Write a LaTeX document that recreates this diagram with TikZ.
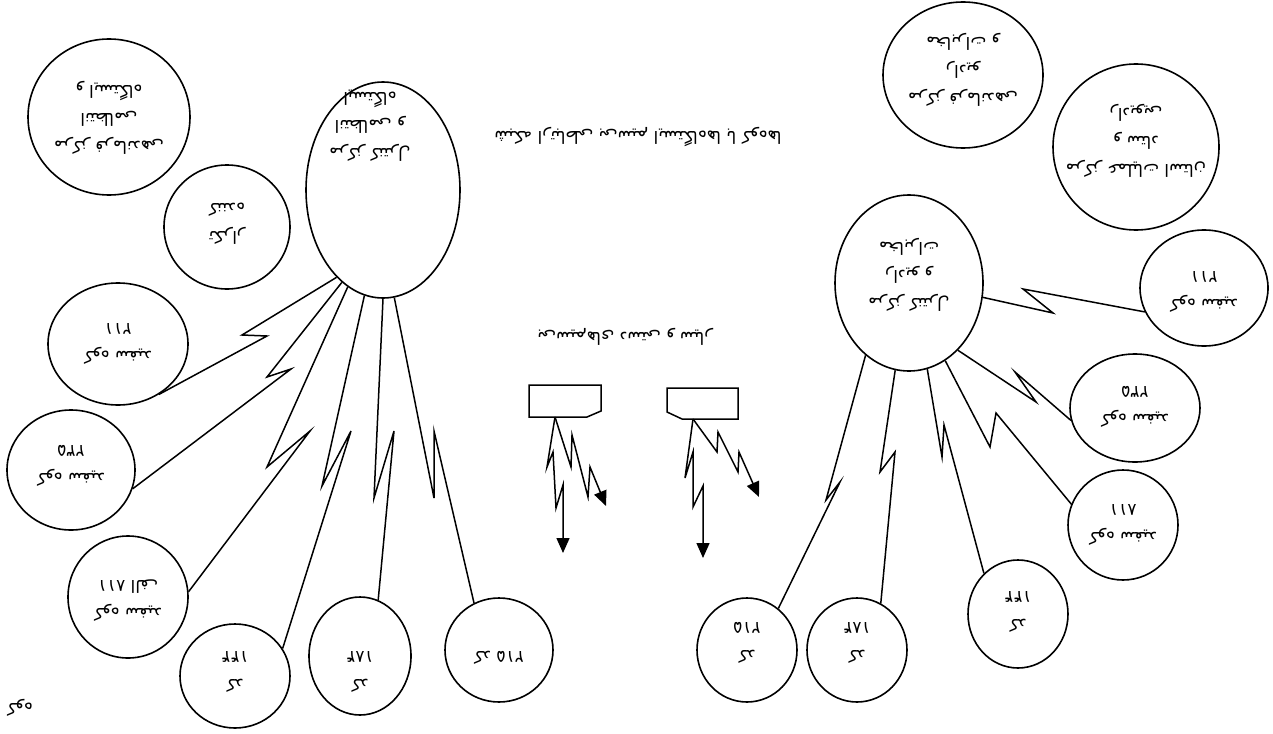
\documentclass[tikz,border=0pt]{standalone}
\usepackage{fontspec}
\usetikzlibrary{shapes.geometric,arrows.meta}
\newfontfamily\fafont[Script=Arabic]{DejaVu Sans}
\TeXXeTstate=1
\newcommand{\fa}[1]{\beginR #1\endR}

\tikzset{
  bub/.style={draw, ellipse, line width=0.8pt, inner sep=0pt},
  lbl/.style={rotate=180, align=center, inner sep=0pt, font=\fafont\fontsize{8.5}{14}\selectfont},
  zap/.style={line width=0.75pt, line join=miter},
  bolt/.style={zap, -{Triangle[width=6.5pt,length=7.5pt]}},
  radio/.style={line width=0.75pt}
}

\begin{document}
\begin{tikzpicture}[x=0.5pt,y=-0.5pt]
\useasboundingbox (0,0) rectangle (1273,733);

% left station
\node[bub, minimum width=81pt, minimum height=78pt] (tl) at (109,117) {};
\node[lbl] (tlT) at (109,118) {\fa{مرکز فرماندهی}\\\fa{انتظامی}\\\fa{و ایستگاه}};
\node[bub, minimum width=63pt, minimum height=62pt] (rep) at (227,227) {};
\node[lbl] (repT) at (227,224) {\fa{تکرار}\\\fa{کننده}};
\node[bub, minimum width=77pt, minimum height=108pt] (lc) at (383,190) {};
\node[lbl] (lcT) at (370,126) {\fa{مرکز کنترل}\\\fa{انتظامی و}\\\fa{ایستگاه}};
\node[bub, minimum width=70pt, minimum height=61pt] (l1) at (118,344) {};
\node[lbl] (l1T) at (118,344) {\fa{کوه سفید}\\\fa{۲۱۱}};
\node[bub, minimum width=64pt, minimum height=60pt] (l2) at (71,470) {};
\node[lbl] (l2T) at (71,466) {\fa{کوه سفید}\\\fa{۲۳۵}};
\node[bub, minimum width=60pt, minimum height=61pt] (l3) at (128,597) {};
\node[lbl] (l3T) at (128,601) {\fa{کوه سفید}\\\fa{۸۱۱ الف}};
\node[bub, minimum width=55pt, minimum height=52pt] (lb1) at (235,676) {};
\node[lbl] (lb1T) at (235,672) {\fa{کد}\\\fa{۱۴۴}};
\node[bub, minimum width=51pt, minimum height=59pt] (lb2) at (360,656) {};
\node[lbl] (lb2T) at (360,672) {\fa{کد}\\\fa{۱۸۴}};
\node[bub, minimum width=54pt, minimum height=52pt] (lb3) at (499,650) {};
\node[lbl] (lb3T) at (499,658) {\fa{کد ۲۱۵}};

% right station
\node[bub, minimum width=80pt, minimum height=73pt] (tr1) at (963,75) {};
\node[lbl] (tr1T) at (963,70) {\fa{مرکز فرماندهی}\\\fa{رادیو}\\\fa{مخابرات و}};
\node[bub, minimum width=83pt, minimum height=83pt] (tr2) at (1136,147) {};
\node[lbl] (tr2T) at (1136,141) {\fa{مرکز عملیات استان}\\\fa{و ستاد}\\\fa{رادیویی}};
\node[bub, minimum width=74pt, minimum height=88pt] (rc) at (909,283) {};
\node[lbl] (rcT) at (909,275) {\fa{مرکز کنترل}\\\fa{رادیو و}\\\fa{مخابرات}};
\node[bub, minimum width=64pt, minimum height=58pt] (r1) at (1204,288) {};
\node[lbl] (r1T) at (1204,292) {\fa{کوه سفید}\\\fa{۲۱۱}};
\node[bub, minimum width=65pt, minimum height=54pt] (r2) at (1135,408) {};
\node[lbl] (r2T) at (1135,407) {\fa{کوه سفید}\\\fa{۲۳۵}};
\node[bub, minimum width=55pt, minimum height=55pt] (r3) at (1123,525) {};
\node[lbl] (r3T) at (1123,525) {\fa{کوه سفید}\\\fa{۸۱۱}};
\node[bub, minimum width=50pt, minimum height=54pt] (rb1) at (1018,614) {};
\node[lbl] (rb1T) at (1018,612) {\fa{کد}\\\fa{۱۴۴}};
\node[bub, minimum width=50pt, minimum height=52pt] (rb2) at (857,650) {};
\node[lbl] (rb2T) at (857,643) {\fa{کد}\\\fa{۱۸۴}};
\node[bub, minimum width=50pt, minimum height=52pt] (rb3) at (747,650) {};
\node[lbl] (rb3T) at (747,643) {\fa{کد}\\\fa{۲۱۵}};

% texts
\node[lbl] (title) at (638,137) {\fa{شبکه ارتباطی بی‌سیم ایستگاه‌ها با کوه‌ها}};
\node[lbl] (handset) at (625,337) {\fa{بی‌سیم‌های دستی و سیار}};
\node[lbl] (kuh) at (20,708) {\fa{کوه}};

% links
\draw[zap] (lc.-118) -- (242,335) -- (267,336) -- (l1.-51);
\draw[zap] (lc.-114) -- (267,377) -- (291,369) -- (l2.-17);
\draw[zap] (lc.-110) -- (267,467) -- (310,431) -- (l3.5);
\draw[zap] (lc.-100) -- (322,486) -- (351,431) -- (lb1.30);
\draw[zap] (lc.-90) -- (374,498) -- (394,431) -- (lb2.72);
\draw[zap] (lc.-84) -- (434,498) -- (434,431) -- (lb3.118);

\draw[zap] (rc.-11) -- (1053,313) -- (1023,289) -- (r1.-158);
\draw[zap] (rc.-54) -- (1036,402) -- (1015,372) -- (r2.-169);
\draw[zap] (rc.-65) -- (990,447) -- (996,413) -- (r3.158);
\draw[zap] (rc.-78) -- (942,457) -- (944,425) -- (rb1.130);
\draw[zap] (rc.-99) -- (880,472) -- (895,452) -- (rb2.63);
\draw[zap] (rc.-121) -- (826,500) -- (840,482) -- (rb3.53);

% handsets
\draw[radio] (529,385) -- (601,385) -- (601,411) -- (587,417) -- (529,417) -- cycle;
\draw[radio] (667,388) -- (738,388) -- (738,419) -- (682,419) -- (667,412) -- cycle;
\coordinate (ant1) at (555,417);
\coordinate (ant2) at (693,419);
\draw[bolt] (ant1) -- (547,467) -- (553,452) -- (556,508) -- (563,485) -- (563,553);
\draw[bolt] (ant1) -- (571,467) -- (572,435) -- (588,497) -- (590,467) -- (606,506);
\draw[bolt] (ant2) -- (685,478) -- (693,452) -- (693,507) -- (703,486) -- (703,558);
\draw[bolt] (ant2) -- (717,452) -- (718,432) -- (738,472) -- (739,452) -- (759,497);
\end{tikzpicture}
\end{document}
